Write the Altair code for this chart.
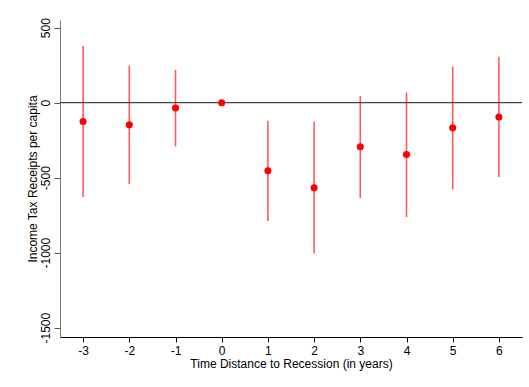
import altair as alt
import pandas as pd

years = [-3, -2, -1, 0, 1, 2, 3, 4, 5, 6]
estimate = [-126, -148, -35, 0, -454, -567, -294, -346, -168, -95]
ci_low = [-629, -543, -292, 0, -789, -1005, -636, -762, -578, -496]
ci_high = [377, 246, 219, 0, -120, -126, 44, 69, 241, 306]
y_ticks = [-1500, -1000, -500, 0, 500]
x_ticks = years

df = pd.DataFrame({"t": years, "est": estimate, "lo": ci_low, "hi": ci_high})
ci_df = df[df["t"] != 0]

xs = alt.Scale(domain=[-3.5, 6.5], nice=False, zero=False)
ys = alt.Scale(domain=[-1562, 551], nice=False, zero=False)

font = "Liberation Sans"

xaxis = alt.Axis(values=x_ticks, title="Time Distance to Recession (in years)",
                 grid=False, domainColor="#000000", tickColor="#000000",
                 tickSize=5, labelFontSize=12, titleFontSize=12, labelFont=font,
                 titleFont=font, labelColor="#000", titleColor="#000",
                 titleFontWeight="normal", labelPadding=3, titlePadding=2,
                 labelExpr="'' + datum.value", domainWidth=1.2)
yaxis = alt.Axis(values=y_ticks, title="Income Tax Receipts per capita",
                 grid=False, domainColor="#777777", tickColor="#555555",
                 tickSize=6, labelFontSize=12, titleFontSize=12, labelFont=font,
                 titleFont=font, labelColor="#000", titleColor="#000",
                 titleFontWeight="normal", labelAngle=270, labelAlign="center",
                 labelBaseline="bottom", labelPadding=2, titleX=-21,
                 labelExpr="'' + datum.value")

zero_line = alt.Chart(pd.DataFrame({"z": [0]})).mark_rule(
    color="#444444", strokeWidth=1.3).encode(y=alt.Y("z:Q", scale=ys, axis=yaxis))

bars = alt.Chart(ci_df).mark_rule(color="#ff0000", opacity=0.65, strokeWidth=1.6).encode(
    x=alt.X("t:Q", scale=xs, axis=xaxis),
    y=alt.Y("lo:Q", scale=ys, axis=yaxis),
    y2="hi:Q",
)

pts = alt.Chart(df).mark_circle(color="#ff0000", opacity=1, size=50).encode(
    x=alt.X("t:Q", scale=xs, axis=xaxis),
    y=alt.Y("est:Q", scale=ys, axis=yaxis),
)

chart = alt.layer(zero_line, bars, pts).properties(
    width=462, height=317,
    autosize=alt.AutoSizeParams(type="none"),
    padding={"left": 60, "top": 20, "right": 7, "bottom": 50},
    background="white",
).configure_view(stroke=None)

chart.save("out.html", embed_options={"renderer": "svg", "actions": False})
